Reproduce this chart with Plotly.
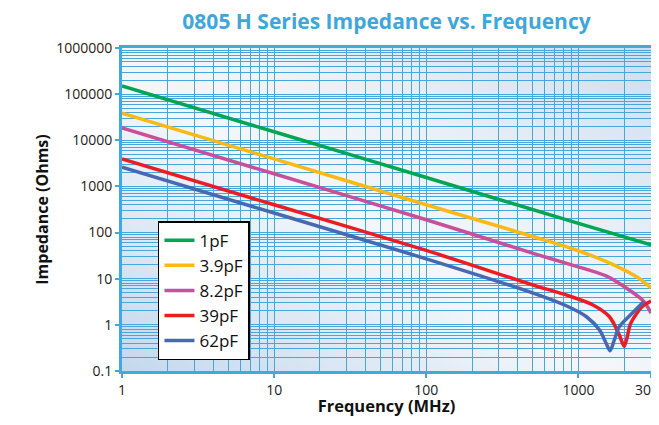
import base64
import plotly.graph_objects as go

# values (frequency in MHz, impedance in Ohms)
f_1pF = [1, 10, 100, 1000, 3000]
z_1pF = [150000, 15300, 1560, 158, 54]

f_3p9pF = [1, 10, 100, 510, 925, 1680, 2500, 3000]
z_3p9pF = [38500, 3950, 400, 81, 44, 20.5, 10.2, 6.3]

f_8p2pF = [1, 10, 100, 510, 925, 1521, 2154, 2697, 3000]
z_8p2pF = [18450, 1880, 190, 35, 19.5, 11.5, 5.7, 3.2, 1.8]

f_39pF = [1, 10, 100, 510, 838, 1247, 1600, 1857, 1950, 2000, 2080, 2208, 2630, 3000]
z_39pF = [3930, 400, 41, 7.2, 4.4, 2.7, 1.5, 0.6, 0.4, 0.34, 0.5, 1.08, 2.5, 3.3]

f_62pF = [1, 10, 100, 510, 838, 1130, 1377, 1521, 1614, 1722, 1857, 2263, 2697]
z_62pF = [2600, 265, 27, 4.8, 2.56, 1.5, 0.77, 0.40, 0.275, 0.47, 0.91, 1.8, 3.2]

series = [
    ("1pF", f_1pF, z_1pF, "#00a651"),
    ("3.9pF", f_3p9pF, z_3p9pF, "#fdb913"),
    ("8.2pF", f_8p2pF, z_8p2pF, "#c8509b"),
    ("39pF", f_39pF, z_39pF, "#ed1c24"),
    ("62pF", f_62pF, z_62pF, "#4a68b2"),
]

x_ticks = [1, 10, 100, 1000, 3000]
y_ticks = [0.1, 1, 10, 100, 1000, 10000, 100000, 1000000]

grid_color = "#45a7da"

fig = go.Figure()

for name, f, z, color in series:
    fig.add_trace(go.Scatter(
        x=f, y=z,
        mode="lines", name=name,
        line=dict(width=3.5, color=color, shape="spline", smoothing=0.8),
    ))

# soft gradient behind the grid
svg = (
    '<svg xmlns="http://www.w3.org/2000/svg" width="200" height="200" preserveAspectRatio="none">'
    '<defs><linearGradient id="g" x1="0" y1="1" x2="1" y2="0">'
    '<stop offset="0" stop-color="#c4d8ed"/>'
    '<stop offset="0.45" stop-color="#f3f7fb"/>'
    '<stop offset="0.62" stop-color="#edf2f9"/>'
    '<stop offset="1" stop-color="#cddeef"/>'
    '</linearGradient></defs>'
    '<rect width="200" height="200" fill="url(#g)"/></svg>'
)
bg = "data:image/svg+xml;base64," + base64.b64encode(svg.encode()).decode()

# the page body has an 8px margin all round, so keep the figure inside the window
fig.update_layout(
    width=643,
    height=409,
    margin=dict(l=114, r=0, t=40, b=46, autoexpand=False),
    paper_bgcolor="white",
    plot_bgcolor="#e4edf6",
    font=dict(family="Open Sans", color="#222222"),
    title=dict(
        text="<b>0805 H Series Impedance vs. Frequency</b>",
        x=0.5, xref="paper", xanchor="center",
        y=0.966, yref="container", yanchor="middle",
        font=dict(family="Open Sans", size=21, color="#3fa6db"),
    ),
    images=[dict(
        source=bg, xref="paper", yref="paper",
        x=0, y=1, sizex=1, sizey=1,
        xanchor="left", yanchor="top",
        sizing="stretch", layer="below",
    )],
    legend=dict(
        x=0.068, y=0.464, xanchor="left", yanchor="top",
        bgcolor="white", bordercolor="black", borderwidth=1.5,
        font=dict(family="Open Sans", size=17, color="#111111"),
    ),
)

fig.update_xaxes(
    type="log",
    range=[0, 3.4771],
    automargin=False,
    tickmode="array",
    tickvals=x_ticks,
    ticktext=[str(v) for v in x_ticks],
    tickfont=dict(size=14),
    ticklabeloverflow="allow",
    ticks="outside", ticklen=4, tickwidth=2, tickcolor=grid_color,
    showgrid=True, gridcolor=grid_color, gridwidth=1,
    minor=dict(dtick="D1", showgrid=True, gridcolor=grid_color, gridwidth=1, ticks=""),
    showline=True, linecolor=grid_color, linewidth=3, mirror=True,
    title=dict(text="<b>Frequency (MHz)</b>", font=dict(size=16.5, color="#111111"), standoff=7),
)

fig.update_yaxes(
    type="log",
    range=[-1, 6],
    automargin=False,
    tickmode="array",
    tickvals=y_ticks,
    ticktext=["0.1", "1", "10", "100", "1000", "10000", "100000", "1000000"],
    tickfont=dict(size=14),
    ticks="outside", ticklen=4, tickwidth=2, tickcolor=grid_color,
    showgrid=True, gridcolor=grid_color, gridwidth=1,
    minor=dict(dtick="D1", showgrid=True, gridcolor=grid_color, gridwidth=1, ticks=""),
    showline=True, linecolor=grid_color, linewidth=3, mirror=True,
    title=dict(text="<b>Impedance (Ohms)</b>", font=dict(size=16, color="#111111"), standoff=4),
)

fig.write_html("out.html")
